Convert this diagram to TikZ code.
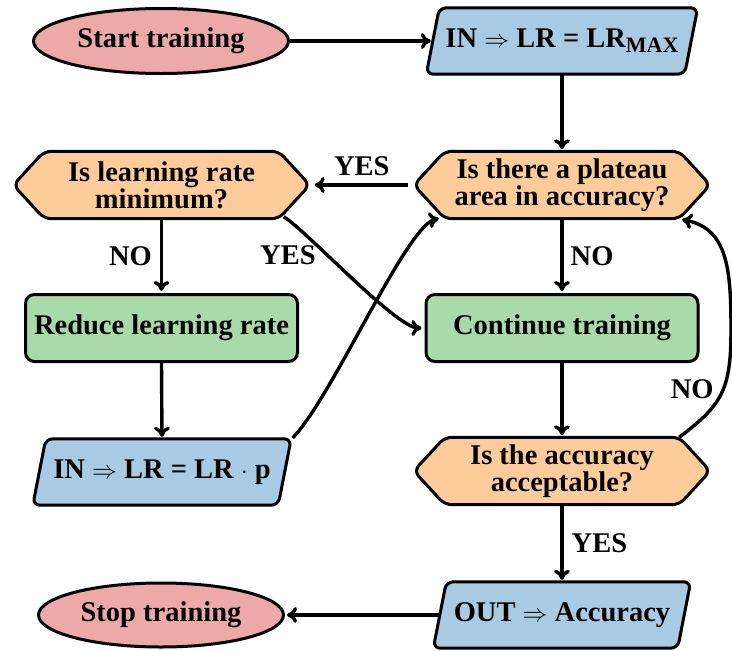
\documentclass[tikz,border=0pt]{standalone}
\usepackage{fontspec}
\setmainfont{Liberation Serif}
\usetikzlibrary{arrows.meta,backgrounds,calc,shapes.geometric}

\definecolor{termpink}{RGB}{237,168,168}
\definecolor{ioblue}{RGB}{168,202,226}
\definecolor{askorange}{RGB}{254,204,154}
\definecolor{actgreen}{RGB}{168,218,170}

\tikzset{
  every node/.style={font=\fontsize{28.5}{27}\selectfont\bfseries, inner sep=0pt},
  outline/.style={draw=black, line width=3pt, line join=round},
  terminal/.style={ellipse, outline, fill=termpink},
  process/.style={rectangle, outline, rounded corners=9pt, fill=actgreen,
                  minimum width=272pt, minimum height=67pt},
  iobox/.style={rectangle, minimum height=66pt},
  askbox/.style={rectangle, minimum width=296pt, minimum height=67pt, align=center},
  flow/.style={line width=3.4pt, -{To[length=10pt,width=16pt]}},
}

% hexagonal decision outline around a named frame node
\newcommand\askshape[1]{%
  \filldraw[outline, fill=askorange, rounded corners=7pt]
    (#1.north) -- ([xshift=-31pt]#1.north east) -- (#1.east)
    -- ([xshift=-31pt]#1.south east) -- ([xshift=31pt]#1.south west)
    -- (#1.west) -- ([xshift=31pt]#1.north west) -- cycle;}
% slanted input/output outline around a named frame node
\newcommand\ioshape[1]{%
  \filldraw[outline, fill=ioblue, rounded corners=7pt]
    (#1.north) -- ([xshift=6.5pt]#1.north east) -- ([xshift=-6.5pt]#1.south east)
    -- ([xshift=-6.5pt]#1.south west) -- ([xshift=6.5pt]#1.north west) -- cycle;}

\begin{document}
\begin{tikzpicture}[x=1pt, y=-1pt]
\useasboundingbox (0,0) rectangle (732,651);

% nodes
\node[terminal, minimum width=255pt, minimum height=65pt] (start) at (161,41) {Start training};
\node[iobox, minimum width=258pt] (lrmax) at (562,41)
  {IN $\Rightarrow$ LR = LR\raisebox{-5pt}{\fontsize{22}{22}\selectfont MAX}};
\node[askbox] (lrmin) at (161.5,185) {Is learning rate\\minimum?};
\node[askbox] (plateau) at (562,185) {Is there a plateau\\area in accuracy?};
\node[process] (reduce) at (161.5,328) {Reduce learning rate};
\node[process] (cont) at (562,328) {Continue training};
\node[iobox, minimum width=245pt] (lrp) at (162,472) {IN $\Rightarrow$ LR = LR $\cdot$ p};
\node[askbox] (accok) at (562,471) {Is the accuracy\\acceptable?};
\node[iobox, minimum width=244pt] (out) at (562,615) {OUT $\Rightarrow$ Accuracy};
\node[terminal, minimum width=245pt, minimum height=64pt] (stop) at (161,615) {Stop training};

\begin{scope}[on background layer]
  \ioshape{lrmax}\ioshape{lrp}\ioshape{out}
  \askshape{lrmin}\askshape{plateau}\askshape{accok}
\end{scope}

% straight connectors
\draw[flow, shorten >=2pt] (start.east) -- (lrmax.west);
\draw[flow, shorten >=2pt] (lrmax.south) -- (plateau.north);
\draw[flow, shorten <=6pt, shorten >=5pt] (plateau.west) -- node[above=8pt]{YES} (lrmin.east);
\draw[flow, shorten >=2pt] (lrmin.south) -- node[left=8pt]{NO} (reduce.north);
\draw[flow, shorten >=2pt] (plateau.south) -- node[right=7pt]{NO} (cont.north);
\draw[flow, shorten >=2pt] (reduce.south) -- (lrp.north);
\draw[flow, shorten >=2pt] (cont.south) -- (accok.north);
\draw[flow, shorten >=2pt] (accok.south) -- node[right=8pt]{YES} (out.north);
\draw[flow, shorten >=2pt] (out.west) -- (stop.east);

% curved connectors
\draw[flow, shorten >=3pt] ($(lrmin.south east)+(-26,-2)$)
  .. controls (308,232) and (396,328) .. (cont.west) node[pos=0.35, left=10pt]{YES};
\draw[flow] ($(lrp.north east)+(8,-1)$)
  .. controls (332,398) and (407,224) .. ($(plateau.south west)+(25,0)$);
\draw[flow] ($(accok.north east)+(-31,0)$)
  .. controls (722,405) and (731,390) .. (731,330) node[pos=0.55, left=8pt]{NO}
  .. controls (731,270) and (728,228) .. ($(plateau.south east)+(-28,1)$);
\end{tikzpicture}
\end{document}
